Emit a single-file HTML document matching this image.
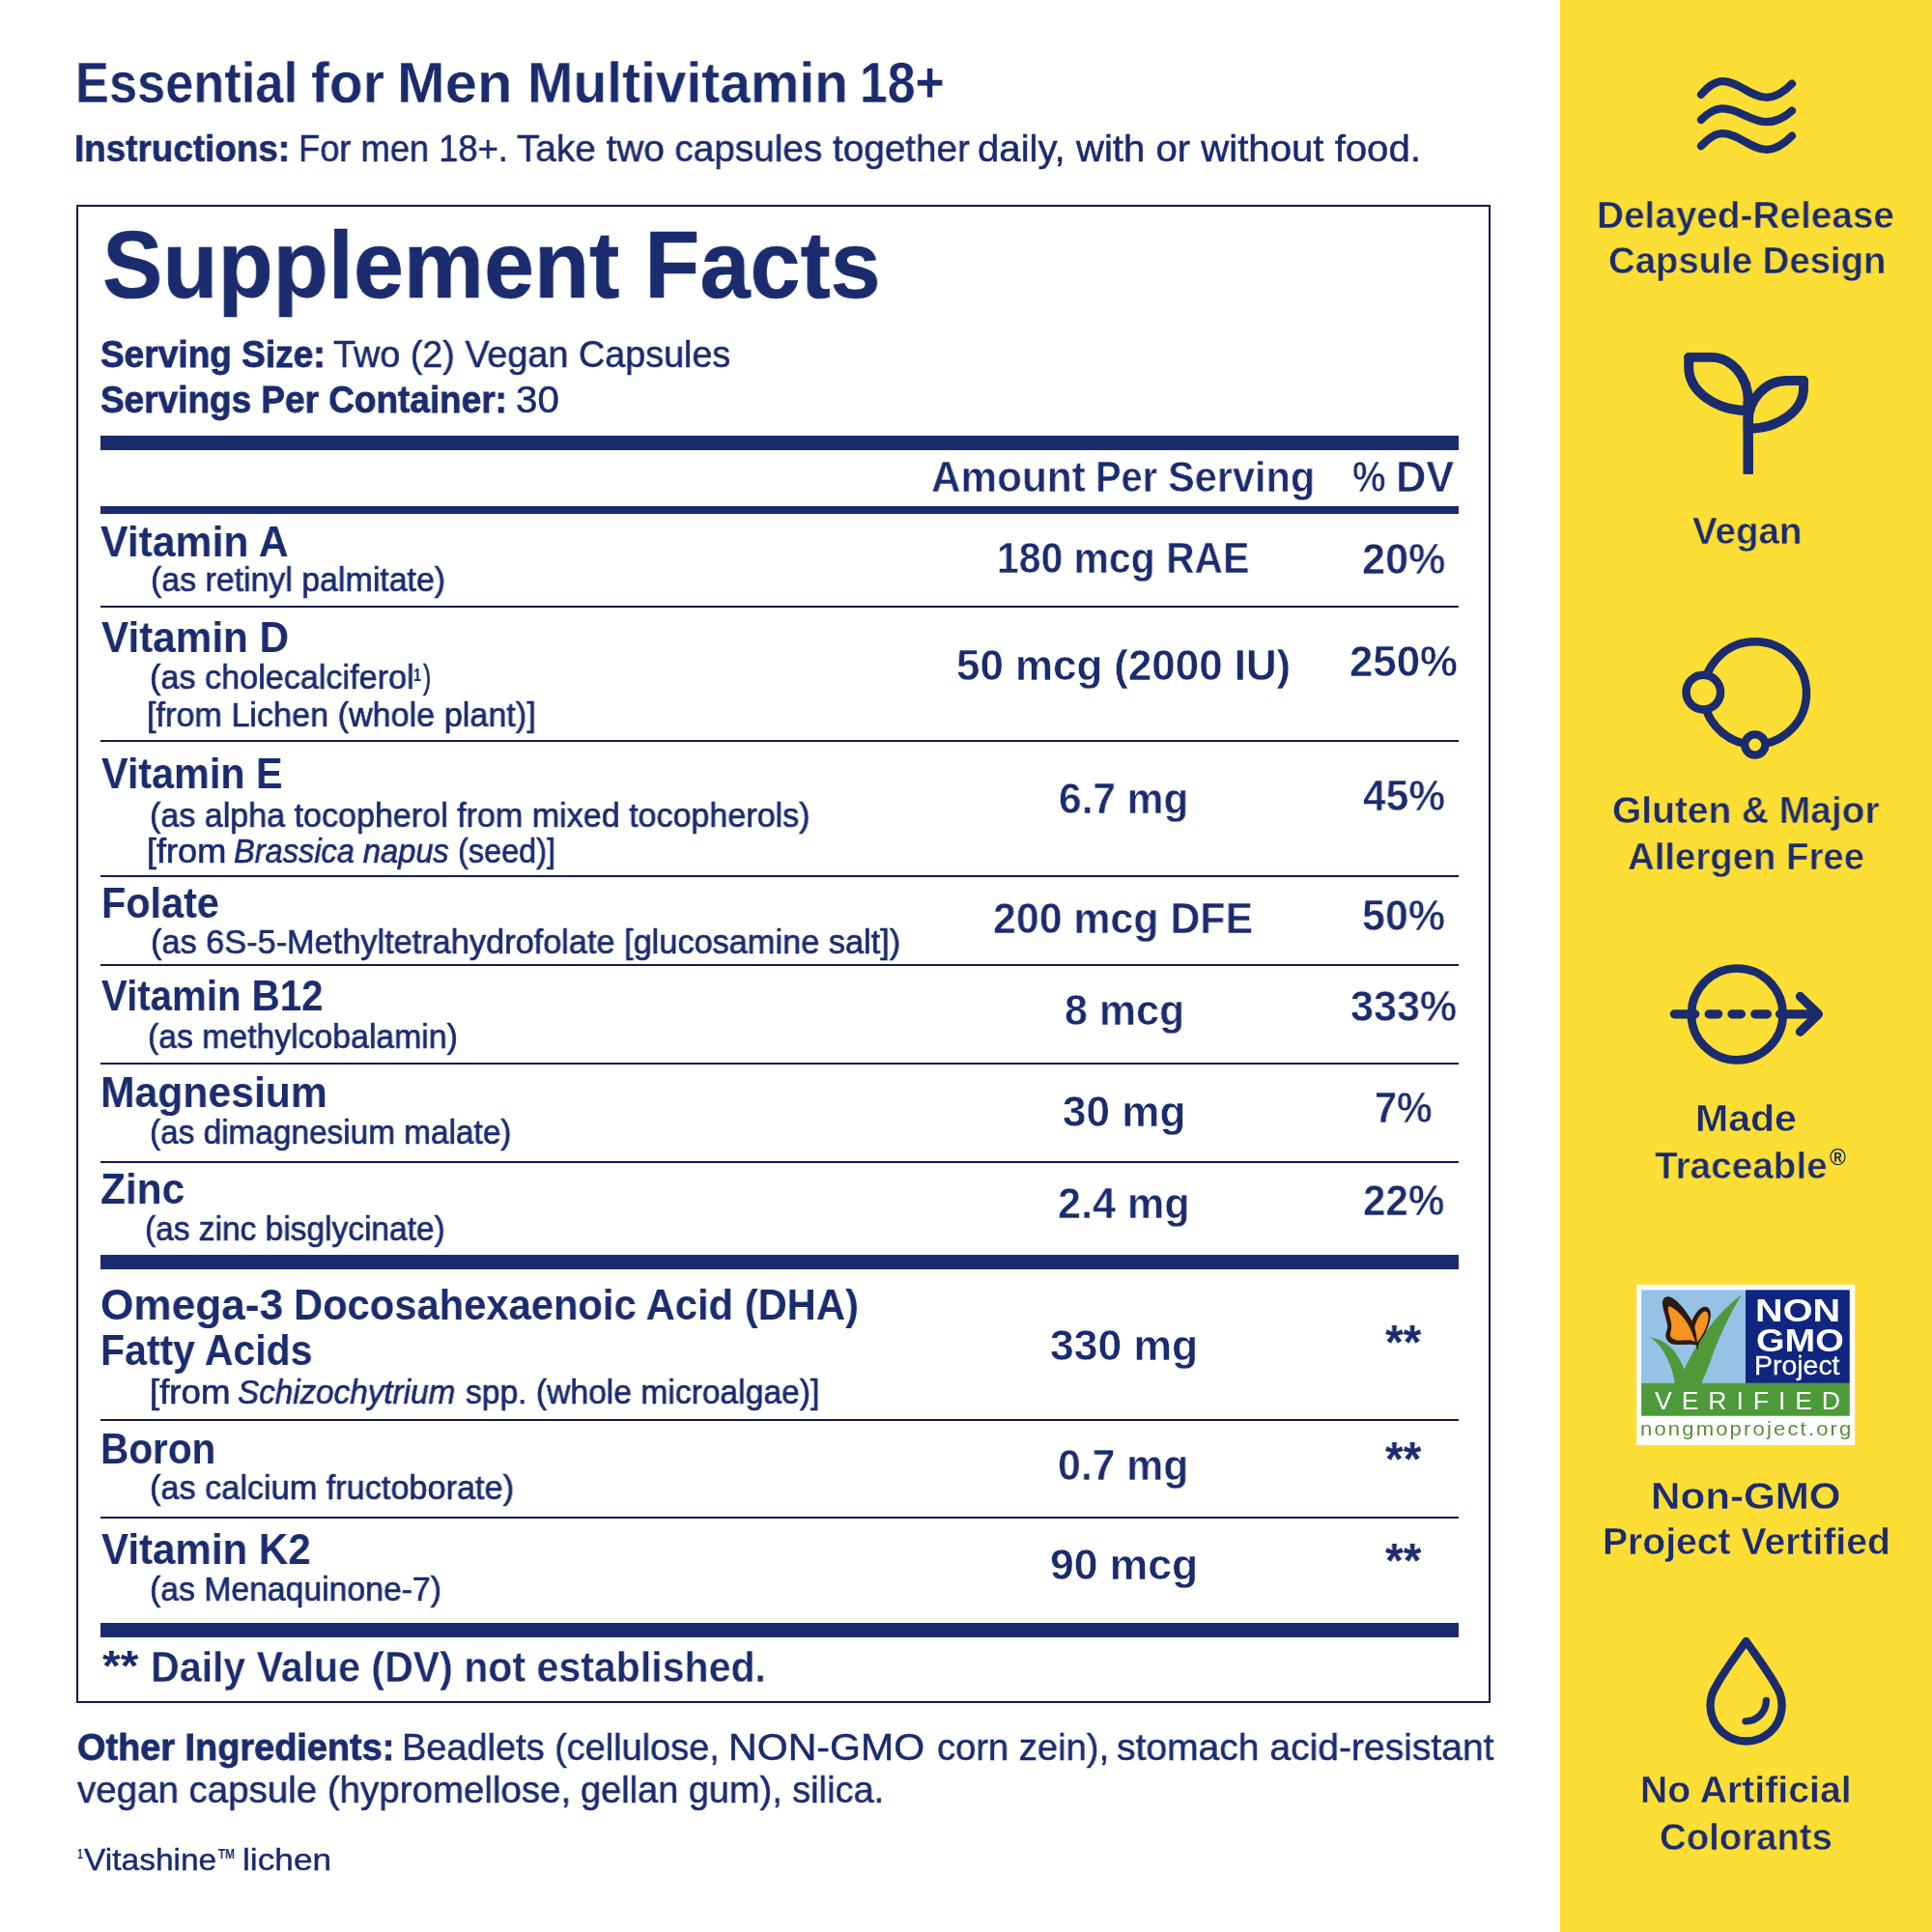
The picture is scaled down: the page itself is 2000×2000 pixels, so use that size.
<!DOCTYPE html>
<html lang="en">
<head>
<meta charset="utf-8">
<title>Essential for Men Multivitamin 18+ Supplement Facts</title>
<style>
html,body{margin:0;padding:0;}
body{width:2000px;height:2000px;position:relative;overflow:hidden;background:#ffffff;color:#1a2b6e;font-family:"Liberation Sans",sans-serif;}
.t{position:absolute;white-space:nowrap;line-height:1;transform-origin:0 0;color:#1a2b6e;will-change:transform;}
.side{position:absolute;left:1615px;top:0;width:385px;height:2000px;background:#fdde35;}
.box{position:absolute;left:79px;top:212px;width:1460px;height:1547px;border:2px solid #121b48;}
.bar{position:absolute;left:104px;width:1406px;background:#1a2b6e;}
.ln{position:absolute;left:104px;width:1406px;height:2px;background:#121b48;}
svg.ic{position:absolute;left:0;top:0;}
</style>
</head>
<body>
<div class="side"></div>
<div class="box"></div>
<div class="bar" style="top:451px;height:15px"></div>
<div class="bar" style="top:524px;height:8px"></div>
<div class="bar" style="top:1299px;height:15px"></div>
<div class="bar" style="top:1680px;height:15px"></div>
<div class="ln" style="top:627px"></div>
<div class="ln" style="top:766px"></div>
<div class="ln" style="top:906px"></div>
<div class="ln" style="top:998px"></div>
<div class="ln" style="top:1100px"></div>
<div class="ln" style="top:1202px"></div>
<div class="ln" style="top:1469px"></div>
<div class="ln" style="top:1570px"></div>

<svg class="ic" width="2000" height="2000" viewBox="0 0 2000 2000" fill="none" stroke="#1a2b6e" stroke-linecap="round" stroke-linejoin="round">
<!-- waves -->
<g stroke-width="8.2">
<path d="M1761,97.9 C1767,91 1774,84.1 1783.5,84.1 C1800,84.1 1812,100.8 1829,100.8 C1840,100.8 1848,94 1855,86.7"/>
<path d="M1761,124 C1767,118 1774,112.4 1783.5,112.4 C1800,112.4 1812,126.2 1829,126.2 C1840,126.2 1848,121 1855,114.6"/>
<path d="M1761,151.2 C1767,145 1774,138.1 1783.5,138.1 C1800,138.1 1812,154.8 1829,154.8 C1840,154.8 1848,148 1855,140.7"/>
</g>
<!-- sprout -->
<g stroke-width="9.9">
<path d="M1809.7,415 V490.9" stroke-linecap="butt" stroke-width="10.5"/>
<path d="M1748.2,369.9 H1771.5 C1792.5,369.9 1809.7,390 1809.7,415 V440"/>
<path d="M1748.2,369.9 V380 C1748.2,404.9 1775.5,425 1809.2,425"/>
<path d="M1867,394 H1850 C1827.6,394 1809.7,413.3 1809.7,437 V445"/>
<path d="M1867,394 V402 C1867,425 1841.3,443.7 1809.7,443.7"/>
</g>
<!-- allergen -->
<g stroke-width="8.5">
<circle cx="1816.8" cy="717.5" r="53.2"/>
<circle cx="1763.3" cy="716.6" r="17.8" fill="#fdde35"/>
<circle cx="1816.8" cy="771" r="10.6" fill="#fdde35" stroke-width="8.3"/>
</g>
<!-- traceable -->
<circle cx="1798.3" cy="1049.9" r="47.4" stroke-width="8.7"/>
<g stroke-width="9.3">
<path d="M1733.4,1049.8 H1754.7 M1769.2,1049.8 H1778.6 M1793,1049.8 H1802.4 M1816.8,1049.8 H1829.4 M1842.6,1049.8 H1881"/>
<path d="M1863.5,1031.5 L1882.4,1049.8 L1863.5,1068.1"/>
</g>
<!-- drop -->
<path d="M1807.6,1699 C1797,1714 1783,1733 1776.85,1744.9 A37,37 0 1 0 1838.35,1744.9 C1832,1733 1818,1714 1807.6,1699 Z" stroke-width="8.3"/>
<path d="M1828.4,1760.5 A21.5,21.5 0 0 1 1807,1781.8" stroke-width="7.3"/>
<!-- non gmo badge -->
<g stroke="none" transform="translate(1690 1325) scale(0.121636)">
<rect x="35" y="40" width="1857" height="1365" fill="#ffffff"/>
<rect x="75" y="85" width="888" height="794" fill="#98c1e6"/>
<rect x="962" y="85" width="886" height="794" fill="#0f2580"/>
<rect x="75" y="878" width="1773" height="279" fill="#4e9a3b"/>
<path d="M360,880 C350,790 310,690 270,620 C235,560 195,520 150,490 C260,505 340,570 390,660 C415,705 430,735 440,760 C520,600 650,330 930,125 C830,280 720,520 660,700 C630,780 600,840 590,880 Z" fill="#4e9a3b"/>
<path d="M548,592 C545,575 547,565 545,558 C500,540 430,555 370,550 C320,548 290,520 282,480 C278,450 300,420 298,390 C290,330 262,270 255,210 C250,160 280,135 310,142 C370,155 450,250 505,350 C525,300 560,245 600,230 C640,220 668,250 665,300 C660,370 625,450 590,500 C570,530 558,550 556,592 Z" fill="#2b1a12"/>
<path d="M306,222 C365,236 442,318 484,398 C508,448 524,492 533,528 C500,500 440,518 386,514 C340,508 312,484 322,452 C330,420 336,400 328,360 C320,310 296,268 306,222 Z" fill="#f7931e"/>
<path d="M528,400 C545,345 572,284 612,268 C640,262 650,298 644,336 C634,404 592,484 550,530 C546,484 538,436 528,400 Z" fill="#f7931e"/>
</g>
</svg>
<span class="t" style="left:77.68px;top:56.78px;font-size:58.5px;transform:scaleX(0.8960);font-weight:bold;-webkit-text-stroke:0.3px #ffffff;">Essential</span>
<span class="t" style="left:322.28px;top:56.78px;font-size:58.5px;transform:scaleX(0.9708);font-weight:bold;-webkit-text-stroke:0.3px #ffffff;">for</span>
<span class="t" style="left:410.99px;top:56.78px;font-size:58.5px;transform:scaleX(1.0201);font-weight:bold;-webkit-text-stroke:0.3px #ffffff;">Men</span>
<span class="t" style="left:545.84px;top:56.78px;font-size:58.5px;transform:scaleX(0.9728);font-weight:bold;-webkit-text-stroke:0.3px #ffffff;">Multivitamin</span>
<span class="t" style="left:889.52px;top:56.78px;font-size:58.5px;transform:scaleX(0.8841);font-weight:bold;-webkit-text-stroke:0.3px #ffffff;">18+</span>
<span class="t" style="left:77.21px;top:134.06px;font-size:39.5px;transform:scaleX(0.9329);font-weight:bold;-webkit-text-stroke:0.6px #1a2b6e;">Instructions:</span>
<span class="t" style="left:309.47px;top:134.06px;font-size:39.5px;transform:scaleX(0.9187);-webkit-text-stroke:0.5px #1a2b6e;">For men 18+.</span>
<span class="t" style="left:534.94px;top:134.06px;font-size:39.5px;transform:scaleX(0.9797);-webkit-text-stroke:0.5px #1a2b6e;">Take two capsules together</span>
<span class="t" style="left:1012.24px;top:134.06px;font-size:39.5px;transform:scaleX(1.0163);-webkit-text-stroke:0.5px #1a2b6e;">daily, with or without food.</span>
<span class="t" style="left:106.29px;top:223.90px;font-size:99px;transform:scaleX(0.9449);font-weight:bold;-webkit-text-stroke:0.6px #1a2b6e;">Supplement Facts</span>
<span class="t" style="left:104.44px;top:346.56px;font-size:39.5px;transform:scaleX(0.9375);font-weight:bold;-webkit-text-stroke:0.8px #1a2b6e;">Serving Size:</span>
<span class="t" style="left:344.94px;top:346.56px;font-size:39.5px;transform:scaleX(0.9556);-webkit-text-stroke:0.5px #1a2b6e;">Two (2) Vegan Capsules</span>
<span class="t" style="left:104.44px;top:394.06px;font-size:39.5px;transform:scaleX(0.9354);font-weight:bold;-webkit-text-stroke:0.8px #1a2b6e;">Servings Per Container:</span>
<span class="t" style="left:533.94px;top:394.06px;font-size:39.5px;transform:scaleX(1.0196);-webkit-text-stroke:0.5px #1a2b6e;">30</span>
<span class="t" style="left:963.58px;top:471.31px;font-size:45px;transform:scaleX(0.9396);font-weight:bold;-webkit-text-stroke:0.6px #ffffff;">Amount</span>
<span class="t" style="left:1134.38px;top:471.31px;font-size:45px;transform:scaleX(0.8840);font-weight:bold;-webkit-text-stroke:0.6px #ffffff;">Per</span>
<span class="t" style="left:1209.00px;top:471.31px;font-size:45px;transform:scaleX(0.9231);font-weight:bold;-webkit-text-stroke:0.6px #ffffff;">Serving</span>
<span class="t" style="left:1400.38px;top:471.31px;font-size:45px;transform:scaleX(0.8636);font-weight:bold;-webkit-text-stroke:0.6px #ffffff;">%</span>
<span class="t" style="left:1444.62px;top:471.31px;font-size:45px;transform:scaleX(0.9627);font-weight:bold;-webkit-text-stroke:0.6px #ffffff;">DV</span>
<span class="t" style="left:104.20px;top:539.43px;font-size:44.5px;transform:scaleX(0.9592);font-weight:bold;">Vitamin A</span>
<span class="t" style="left:155.65px;top:583.30px;font-size:34.5px;transform:scaleX(0.9823);-webkit-text-stroke:0.65px #1a2b6e;">(as retinyl palmitate)</span>
<span class="t" style="left:1031.59px;top:556.78px;font-size:43.5px;transform:scaleX(0.9398);font-weight:bold;-webkit-text-stroke:0.5px #ffffff;">180 mcg RAE</span>
<span class="t" style="left:1409.56px;top:557.98px;font-size:43.5px;transform:scaleX(0.9919);font-weight:bold;-webkit-text-stroke:0.5px #ffffff;">20%</span>
<span class="t" style="left:105.00px;top:637.83px;font-size:44.5px;transform:scaleX(0.9494);font-weight:bold;">Vitamin D</span>
<span class="t" style="left:154.64px;top:684.30px;font-size:34.5px;transform:scaleX(0.9912);-webkit-text-stroke:0.65px #1a2b6e;">(as cholecalciferol</span>
<span class="t" style="left:427.80px;top:690.06px;font-size:18px;transform:scaleX(0.8000);font-weight:bold;">1</span>
<span class="t" style="left:437.63px;top:684.30px;font-size:34.5px;transform:scaleX(0.7136);-webkit-text-stroke:0.65px #1a2b6e;">)</span>
<span class="t" style="left:152.34px;top:723.30px;font-size:34.5px;transform:scaleX(0.9906);-webkit-text-stroke:0.65px #1a2b6e;">[from Lichen (whole plant)]</span>
<span class="t" style="left:990.24px;top:667.78px;font-size:43.5px;transform:scaleX(1.0084);font-weight:bold;-webkit-text-stroke:0.5px #ffffff;">50 mcg (2000 IU)</span>
<span class="t" style="left:1396.54px;top:664.18px;font-size:43.5px;transform:scaleX(1.0066);font-weight:bold;-webkit-text-stroke:0.5px #ffffff;">250%</span>
<span class="t" style="left:105.00px;top:778.53px;font-size:44.5px;transform:scaleX(0.9287);font-weight:bold;">Vitamin E</span>
<span class="t" style="left:154.65px;top:826.80px;font-size:34.5px;transform:scaleX(0.9874);-webkit-text-stroke:0.65px #1a2b6e;">(as alpha tocopherol from mixed tocopherols)</span>
<span class="t" style="left:152.25px;top:864.10px;font-size:34.5px;transform:scaleX(1.0464);-webkit-text-stroke:0.65px #1a2b6e;">[from</span>
<span class="t" style="left:241.56px;top:864.10px;font-size:34.5px;transform:scaleX(0.9440);font-style:italic;-webkit-text-stroke:0.65px #1a2b6e;">Brassica napus</span>
<span class="t" style="left:473.62px;top:864.10px;font-size:34.5px;transform:scaleX(0.9412);-webkit-text-stroke:0.65px #1a2b6e;">(seed)]</span>
<span class="t" style="left:1096.38px;top:806.48px;font-size:43.5px;transform:scaleX(0.9751);font-weight:bold;-webkit-text-stroke:0.5px #ffffff;">6.7 mg</span>
<span class="t" style="left:1410.56px;top:802.98px;font-size:43.5px;transform:scaleX(0.9757);font-weight:bold;-webkit-text-stroke:0.5px #ffffff;">45%</span>
<span class="t" style="left:105.34px;top:912.63px;font-size:44.5px;transform:scaleX(0.9299);font-weight:bold;">Folate</span>
<span class="t" style="left:155.63px;top:958.10px;font-size:34.5px;transform:scaleX(0.9945);-webkit-text-stroke:0.65px #1a2b6e;">(as 6S-5-Methyltetrahydrofolate [glucosamine salt])</span>
<span class="t" style="left:1028.07px;top:930.38px;font-size:43.5px;transform:scaleX(0.9849);font-weight:bold;-webkit-text-stroke:0.5px #ffffff;">200 mcg DFE</span>
<span class="t" style="left:1409.57px;top:926.78px;font-size:43.5px;transform:scaleX(0.9872);font-weight:bold;-webkit-text-stroke:0.5px #ffffff;">50%</span>
<span class="t" style="left:105.00px;top:1009.23px;font-size:44.5px;transform:scaleX(0.9034);font-weight:bold;">Vitamin B12</span>
<span class="t" style="left:152.96px;top:1055.80px;font-size:34.5px;transform:scaleX(0.9784);-webkit-text-stroke:0.65px #1a2b6e;">(as methylcobalamin)</span>
<span class="t" style="left:1101.57px;top:1025.18px;font-size:43.5px;transform:scaleX(0.9873);font-weight:bold;-webkit-text-stroke:0.5px #ffffff;">8 mcg</span>
<span class="t" style="left:1397.66px;top:1021.48px;font-size:43.5px;transform:scaleX(0.9910);font-weight:bold;-webkit-text-stroke:0.5px #ffffff;">333%</span>
<span class="t" style="left:104.08px;top:1109.03px;font-size:44.5px;transform:scaleX(0.9591);font-weight:bold;">Magnesium</span>
<span class="t" style="left:154.68px;top:1155.10px;font-size:34.5px;transform:scaleX(0.9668);-webkit-text-stroke:0.65px #1a2b6e;">(as dimagnesium malate)</span>
<span class="t" style="left:1099.93px;top:1129.68px;font-size:43.5px;transform:scaleX(1.0127);font-weight:bold;-webkit-text-stroke:0.5px #ffffff;">30 mg</span>
<span class="t" style="left:1422.52px;top:1125.98px;font-size:43.5px;transform:scaleX(0.9474);font-weight:bold;-webkit-text-stroke:0.5px #ffffff;">7%</span>
<span class="t" style="left:104.05px;top:1208.93px;font-size:44.5px;transform:scaleX(0.9529);font-weight:bold;">Zinc</span>
<span class="t" style="left:150.07px;top:1255.00px;font-size:34.5px;transform:scaleX(0.9702);-webkit-text-stroke:0.65px #1a2b6e;">(as zinc bisglycinate)</span>
<span class="t" style="left:1094.76px;top:1225.48px;font-size:43.5px;transform:scaleX(0.9915);font-weight:bold;-webkit-text-stroke:0.5px #ffffff;">2.4 mg</span>
<span class="t" style="left:1410.59px;top:1221.78px;font-size:43.5px;transform:scaleX(0.9684);font-weight:bold;-webkit-text-stroke:0.5px #ffffff;">22%</span>
<span class="t" style="left:104.01px;top:1328.53px;font-size:44.5px;transform:scaleX(0.9932);font-weight:bold;">Omega-3</span>
<span class="t" style="left:303.53px;top:1328.53px;font-size:44.5px;transform:scaleX(0.9373);font-weight:bold;">Docosahexaenoic Acid (DHA)</span>
<span class="t" style="left:104.16px;top:1375.53px;font-size:44.5px;transform:scaleX(0.9212);font-weight:bold;">Fatty Acids</span>
<span class="t" style="left:155.02px;top:1423.70px;font-size:34.5px;transform:scaleX(1.0623);-webkit-text-stroke:0.65px #1a2b6e;">[from</span>
<span class="t" style="left:246.21px;top:1423.70px;font-size:34.5px;transform:scaleX(0.9627);font-style:italic;-webkit-text-stroke:0.65px #1a2b6e;">Schizochytrium</span>
<span class="t" style="left:481.72px;top:1423.70px;font-size:34.5px;transform:scaleX(0.9747);-webkit-text-stroke:0.65px #1a2b6e;">spp. (whole microalgae)]</span>
<span class="t" style="left:1087.02px;top:1371.78px;font-size:43.5px;transform:scaleX(1.0223);font-weight:bold;-webkit-text-stroke:0.5px #ffffff;">330 mg</span>
<span class="t" style="left:104.18px;top:1478.03px;font-size:44.5px;transform:scaleX(0.9107);font-weight:bold;">Boron</span>
<span class="t" style="left:154.64px;top:1523.00px;font-size:34.5px;transform:scaleX(0.9931);-webkit-text-stroke:0.65px #1a2b6e;">(as calcium fructoborate)</span>
<span class="t" style="left:1095.37px;top:1495.98px;font-size:43.5px;transform:scaleX(0.9825);font-weight:bold;-webkit-text-stroke:0.5px #ffffff;">0.7 mg</span>
<span class="t" style="left:105.00px;top:1581.53px;font-size:44.5px;transform:scaleX(0.9454);font-weight:bold;">Vitamin K2</span>
<span class="t" style="left:154.66px;top:1628.10px;font-size:34.5px;transform:scaleX(0.9780);-webkit-text-stroke:0.65px #1a2b6e;">(as Menaquinone-7)</span>
<span class="t" style="left:1087.02px;top:1598.58px;font-size:43.5px;transform:scaleX(1.0223);font-weight:bold;-webkit-text-stroke:0.5px #ffffff;">90 mcg</span>
<span class="t" style="left:156.02px;top:1704.13px;font-size:44.5px;transform:scaleX(0.9232);font-weight:bold;-webkit-text-stroke:0.3px #ffffff;">Daily Value (DV) not established.</span>
<span class="t" style="left:79.62px;top:1789.46px;font-size:39.5px;transform:scaleX(0.9590);font-weight:bold;-webkit-text-stroke:0.8px #1a2b6e;">Other Ingredients:</span>
<span class="t" style="left:415.96px;top:1789.46px;font-size:39.5px;transform:scaleX(0.9601);-webkit-text-stroke:0.5px #1a2b6e;">Beadlets (cellulose,</span>
<span class="t" style="left:754.24px;top:1789.46px;font-size:39.5px;transform:scaleX(1.0405);-webkit-text-stroke:0.5px #1a2b6e;">NON-GMO</span>
<span class="t" style="left:970.18px;top:1789.46px;font-size:39.5px;transform:scaleX(0.9661);-webkit-text-stroke:0.5px #1a2b6e;">corn zein),</span>
<span class="t" style="left:1156.46px;top:1789.46px;font-size:39.5px;transform:scaleX(0.9881);-webkit-text-stroke:0.5px #1a2b6e;">stomach acid-resistant</span>
<span class="t" style="left:80.44px;top:1832.66px;font-size:39.5px;transform:scaleX(0.9742);-webkit-text-stroke:0.5px #1a2b6e;">vegan capsule (hypromellose,</span>
<span class="t" style="left:601.28px;top:1832.66px;font-size:39.5px;transform:scaleX(0.9603);-webkit-text-stroke:0.5px #1a2b6e;">gellan gum), silica.</span>
<span class="t" style="left:80.00px;top:1911.30px;font-size:15px;transform:scaleX(0.7000);font-weight:bold;">1</span>
<span class="t" style="left:87.22px;top:1909.68px;font-size:30.5px;transform:scaleX(1.0985);-webkit-text-stroke:0.4px #1a2b6e;">Vitashine</span>
<span class="t" style="left:226.00px;top:1912.15px;font-size:14px;transform:scaleX(0.8439);font-weight:bold;">TM</span>
<span class="t" style="left:250.52px;top:1909.68px;font-size:30.5px;transform:scaleX(1.1560);-webkit-text-stroke:0.4px #1a2b6e;">lichen</span>
<span class="t" style="left:1653.27px;top:202.79px;font-size:39px;transform:scaleX(0.9931);font-weight:bold;-webkit-text-stroke:0.5px #fdde35;">Delayed-Release</span>
<span class="t" style="left:1664.57px;top:250.39px;font-size:39px;transform:scaleX(0.9822);font-weight:bold;-webkit-text-stroke:0.5px #fdde35;">Capsule Design</span>
<span class="t" style="left:1751.95px;top:529.69px;font-size:39px;transform:scaleX(0.9879);font-weight:bold;-webkit-text-stroke:0.5px #fdde35;">Vegan</span>
<span class="t" style="left:1668.55px;top:818.69px;font-size:39px;transform:scaleX(0.9972);font-weight:bold;-webkit-text-stroke:0.5px #fdde35;">Gluten &amp; Major</span>
<span class="t" style="left:1685.05px;top:866.59px;font-size:39px;transform:scaleX(0.9832);font-weight:bold;-webkit-text-stroke:0.5px #fdde35;">Allergen Free</span>
<span class="t" style="left:1755.44px;top:1138.29px;font-size:39px;transform:scaleX(1.0508);font-weight:bold;-webkit-text-stroke:0.5px #fdde35;">Made</span>
<span class="t" style="left:1713.25px;top:1186.99px;font-size:39px;transform:scaleX(0.9924);font-weight:bold;-webkit-text-stroke:0.5px #fdde35;">Traceable</span>
<span class="t" style="left:1894.00px;top:1186.53px;font-size:23px;transform:scaleX(0.9765);font-weight:bold;">®</span>
<span class="t" style="left:1709.37px;top:1528.69px;font-size:39px;transform:scaleX(1.0807);font-weight:bold;-webkit-text-stroke:0.5px #fdde35;">Non-GMO</span>
<span class="t" style="left:1658.74px;top:1576.29px;font-size:39px;transform:scaleX(1.0030);font-weight:bold;-webkit-text-stroke:0.5px #fdde35;">Project Vertified</span>
<span class="t" style="left:1698.14px;top:1833.39px;font-size:39px;transform:scaleX(1.0055);font-weight:bold;-webkit-text-stroke:0.5px #fdde35;">No Artificial</span>
<span class="t" style="left:1718.47px;top:1882.09px;font-size:39px;transform:scaleX(0.9832);font-weight:bold;-webkit-text-stroke:0.5px #fdde35;">Colorants</span>
<span class="t" style="left:1817.16px;top:1340.59px;font-size:32.5px;transform:scaleX(1.2204);font-weight:bold;color:#ffffff;">NON</span>
<span class="t" style="left:1817.53px;top:1371.59px;font-size:32.5px;transform:scaleX(1.1692);font-weight:bold;color:#ffffff;">GMO</span>
<span class="t" style="left:1816.42px;top:1399.70px;font-size:28px;transform:scaleX(1.0156);-webkit-text-stroke:0.3px #ffffff;color:#ffffff;">Project</span>
<span class="t" style="left:1712.50px;top:1437.63px;font-size:25.6px;transform:scaleX(1.0410);color:#ffffff;letter-spacing:9.5px;">VERIFIED</span>
<span class="t" style="left:1698.01px;top:1468.62px;font-size:20.3px;transform:scaleX(1.0858);color:#5a8c3c;letter-spacing:2px;">nongmoproject.org</span>
<span class="t" style="left:1434.00px;top:1364.55px;font-size:50.79px;transform:scaleX(0.9426);font-weight:bold;">**</span>
<span class="t" style="left:1434.00px;top:1486.39px;font-size:50.53px;transform:scaleX(0.9475);font-weight:bold;">**</span>
<span class="t" style="left:1434.00px;top:1590.89px;font-size:50.53px;transform:scaleX(0.9475);font-weight:bold;">**</span>
<span class="t" style="left:105.70px;top:1702.77px;font-size:43.68px;transform:scaleX(1.0959);font-weight:bold;">**</span>
</body>
</html>
